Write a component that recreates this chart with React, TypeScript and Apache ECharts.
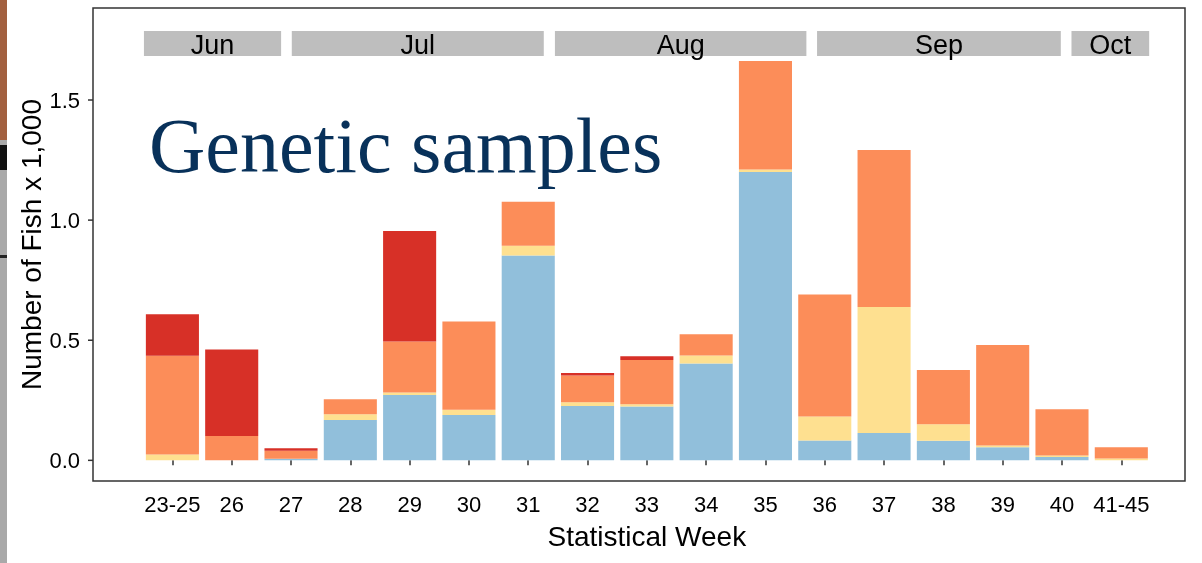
import React, { useEffect, useRef } from "react";
import * as echarts from "echarts";

const weeks = ["23-25", "26", "27", "28", "29", "30", "31", "32", "33", "34", "35", "36", "37", "38", "39", "40", "41-45"];
const blueVals = [0, 0, 0.007, 0.168, 0.272, 0.189, 0.853, 0.226, 0.224, 0.403, 1.2, 0.083, 0.114, 0.082, 0.055, 0.014, 0];
const yellowVals = [0.024, 0, 0, 0.024, 0.01, 0.022, 0.04, 0.016, 0.009, 0.033, 0.011, 0.1, 0.524, 0.068, 0.007, 0.006, 0.008];
const orangeVals = [0.411, 0.101, 0.033, 0.062, 0.213, 0.367, 0.183, 0.111, 0.185, 0.089, 0.451, 0.507, 0.654, 0.226, 0.418, 0.193, 0.046];
const redVals = [0.173, 0.36, 0.01, 0, 0.46, 0, 0, 0.011, 0.015, 0, 0, 0, 0, 0, 0, 0, 0];

const monthNames = ["Jun", "Jul", "Aug", "Sep", "Oct"];
const monthStart = [-0.48, 2.013, 6.45, 10.87, 15.16];
const monthEnd = [1.833, 6.262, 10.69, 14.98, 16.47];
const stripLow = 1.683;
const stripHigh = 1.787;

const yTicks = [0, 0.5, 1.0, 1.5];
const panelLeftX = -1.339; // left panel edge, in week-index units

export default function App() {
  const ref = useRef<HTMLDivElement>(null);
  useEffect(() => {
    if (!ref.current) return;
    const chart = echarts.init(ref.current, null, { renderer: "svg" });
    const font = "Liberation Sans, Arial, sans-serif";
    const barSeries = [
      { name: "Group 1", data: blueVals, color: "#91bfdb" },
      { name: "Group 2", data: yellowVals, color: "#fee090" },
      { name: "Group 3", data: orangeVals, color: "#fc8d59" },
      { name: "Group 4", data: redVals, color: "#d73027" },
    ].map((s) => ({
      type: "bar",
      name: s.name,
      stack: "total",
      data: s.data,
      barCategoryGap: "10.5%",
      itemStyle: { color: s.color },
      xAxisIndex: 0,
      yAxisIndex: 0,
    }));
    const stripData = monthNames.map((_, i) => [monthStart[i], monthEnd[i], stripLow, stripHigh]);
    chart.setOption({
      animation: false,
      textStyle: { fontFamily: font },
      grid: { left: 142.75, right: 51.05, top: 8, bottom: 82, containLabel: false },
      xAxis: [
        {
          type: "category",
          data: weeks,
          axisLine: { show: false },
          axisTick: { show: true, alignWithLabel: true, length: 5, lineStyle: { color: "#333", width: 1.5 } },
          axisLabel: { color: "#000", fontSize: 22, margin: 12, fontFamily: font, interval: 0 },
          name: "Statistical Week",
          nameLocation: "middle",
          nameGap: 41,
          nameMoveOverlap: false,
          nameTextStyle: { color: "#000", fontSize: 28, fontFamily: font },
        },
        { type: "value", min: -0.5, max: 16.5, show: false },
      ],
      yAxis: {
        type: "value",
        min: -0.086,
        max: 1.883,
        offset: 49.75,
        splitLine: { show: false },
        axisLine: { show: false },
        axisTick: { show: false },
        axisLabel: {
          color: "#000",
          fontSize: 22,
          margin: 13,
          fontFamily: font,
          customValues: yTicks,
          formatter: (v: number) => v.toFixed(1),
        },
        name: "Number of Fish x 1,000",
        nameLocation: "middle",
        nameGap: 48,
        nameMoveOverlap: false,
        nameTextStyle: { color: "#000", fontSize: 28, fontFamily: font },
      },
      series: [
        ...barSeries,
        {
          type: "custom",
          name: "month strips",
          xAxisIndex: 1,
          yAxisIndex: 0,
          data: stripData,
          encode: { x: [0, 1], y: [2, 3] },
          renderItem: (params: any, api: any) => {
            const p0 = api.coord([api.value(0), api.value(3)]);
            const p1 = api.coord([api.value(1), api.value(2)]);
            return {
              type: "group",
              children: [
                {
                  type: "rect",
                  shape: { x: p0[0], y: p0[1], width: p1[0] - p0[0], height: p1[1] - p0[1] },
                  style: { fill: "#bebebe" },
                },
                {
                  type: "text",
                  x: (p0[0] + p1[0]) / 2,
                  y: (p0[1] + p1[1]) / 2 + 1,
                  style: {
                    text: monthNames[params.dataIndex],
                    fill: "#000",
                    font: "27px 'Liberation Sans', Arial, sans-serif",
                    textAlign: "center",
                    textVerticalAlign: "middle",
                  },
                },
              ],
            };
          },
        },
        {
          type: "custom",
          name: "y ticks",
          xAxisIndex: 1,
          yAxisIndex: 0,
          clip: false,
          data: yTicks.map((v) => [panelLeftX, v]),
          encode: { x: 0, y: 1 },
          renderItem: (params: any, api: any) => {
            const p = api.coord([api.value(0), api.value(1)]);
            return {
              type: "line",
              shape: { x1: p[0] - 5, y1: p[1], x2: p[0], y2: p[1] },
              style: { stroke: "#333", lineWidth: 1.5 },
            };
          },
        },
      ],
      graphic: [
        { type: "rect", left: 0, top: 0, shape: { width: 7, height: 140 }, style: { fill: "#a2603f" }, z: 10 },
        { type: "rect", left: 0, top: 140, shape: { width: 7, height: 423 }, style: { fill: "#a9a9a9" }, z: 10 },
        { type: "rect", left: 0, top: 145, shape: { width: 7, height: 25 }, style: { fill: "#111" }, z: 11 },
        { type: "rect", left: 0, top: 255, shape: { width: 7, height: 3 }, style: { fill: "#222" }, z: 11 },
        {
          type: "rect",
          shape: { x: 93, y: 8, width: 1092, height: 473 },
          style: { fill: "none", stroke: "#333", lineWidth: 1.5 },
          z: 20,
        },
        {
          type: "text",
          x: 149,
          y: 145,
          style: {
            text: "Genetic samples",
            fill: "#08315a",
            font: "78px 'Liberation Serif', 'Times New Roman', serif",
            textAlign: "left",
            textVerticalAlign: "middle",
          },
          z: 20,
        },
      ],
    });
    return () => chart.dispose();
  }, []);
  return <div ref={ref} style={{ position: "fixed", left: 0, top: 0, width: 1202, height: 563 }} />;
}
